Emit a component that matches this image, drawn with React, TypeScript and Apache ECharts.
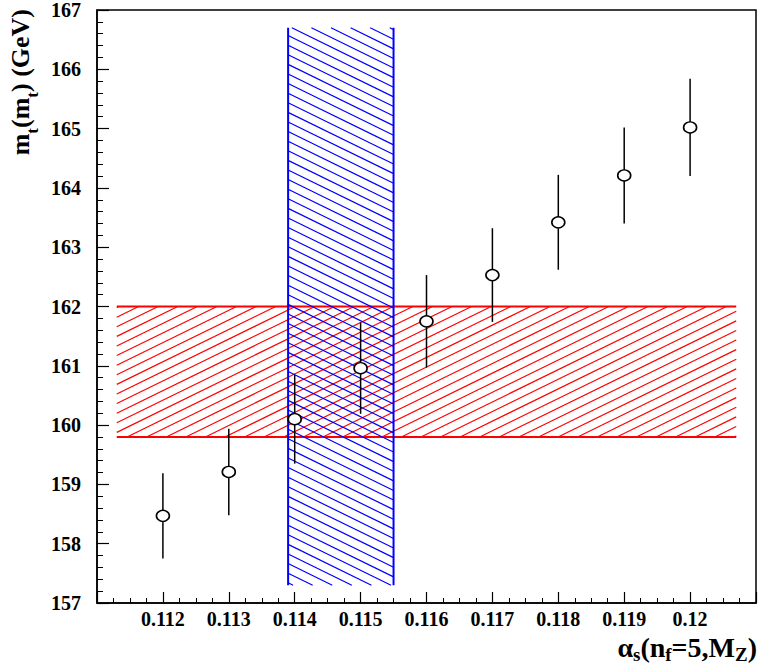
import React, { useEffect, useRef } from 'react';
import * as echarts from 'echarts';

// ---- data ----
const alphaS = [0.112, 0.113, 0.114, 0.115, 0.116, 0.117, 0.118, 0.119, 0.12];
const mtValues = [158.47, 159.21, 160.1, 160.96, 161.75, 162.53, 163.42, 164.21, 165.02];
const mtErrors = [0.72, 0.73, 0.75, 0.77, 0.78, 0.79, 0.8, 0.81, 0.82];

// vertical (alpha_s) band
const alphaBandX = [0.1139, 0.1155];
const alphaBandY = [157.3, 166.7];
// horizontal (m_t) band
const mtBandX = [0.1113, 0.1207];
const mtBandY = [159.8, 162.0];

const xMin = 0.111;
const xMax = 0.121;
const xStep = 0.001;
const yMin = 157;
const yMax = 167;
const yStep = 1;

const FONT = "'Liberation Serif', 'DejaVu Serif', serif";

type Seg = { x1: number; y1: number; x2: number; y2: number };

function hatch(xL: number, yT: number, xR: number, yB: number, dir: 'down' | 'up', spacing: number, slope: number): Seg[] {
  const W = xR - xL;
  const H = yB - yT;
  const segs: Seg[] = [];
  const start = dir === 'down' ? yT - slope * xL : yB + slope * xL;
  const cMin = -slope * W;
  const cMax = H;
  let k = Math.ceil((cMin + (dir === 'down' ? start : -start)) / spacing);
  for (let i = 0; i < 1000; i++, k++) {
    const c = dir === 'down' ? k * spacing - start : k * spacing + start;
    if (c > cMax) break;
    const t0 = Math.max(0, -c / slope);
    const t1 = Math.min(W, (H - c) / slope);
    if (t1 <= t0) continue;
    if (dir === 'down') {
      segs.push({ x1: xL + t0, y1: yT + c + slope * t0, x2: xL + t1, y2: yT + c + slope * t1 });
    } else {
      segs.push({ x1: xL + t0, y1: yB - c - slope * t0, x2: xL + t1, y2: yB - c - slope * t1 });
    }
  }
  return segs;
}

export default function App() {
  const ref = useRef<HTMLDivElement>(null);

  useEffect(() => {
    if (!ref.current) return;
    const chart = echarts.init(ref.current, undefined, { renderer: 'svg' });

    const bandRender = (color: string, dir: 'down' | 'up', borders: 'v' | 'h') => (params: any, api: any) => {
      const x0 = api.value(0), x1 = api.value(1), y0 = api.value(2), y1 = api.value(3);
      const pTL = api.coord([x0, y1]);
      const pBR = api.coord([x1, y0]);
      const segs = hatch(pTL[0], pTL[1], pBR[0], pBR[1], dir, 9.6, 0.49);
      const children: any[] = segs.map((s) => ({
        type: 'line',
        shape: s,
        style: { stroke: color, lineWidth: 1.2 },
      }));
      if (borders === 'v') {
        children.push({ type: 'line', shape: { x1: pTL[0], y1: pTL[1], x2: pTL[0], y2: pBR[1] }, style: { stroke: color, lineWidth: 2 } });
        children.push({ type: 'line', shape: { x1: pBR[0], y1: pTL[1], x2: pBR[0], y2: pBR[1] }, style: { stroke: color, lineWidth: 2 } });
      } else {
        children.push({ type: 'line', shape: { x1: pTL[0], y1: pTL[1], x2: pBR[0], y2: pTL[1] }, style: { stroke: color, lineWidth: 2 } });
        children.push({ type: 'line', shape: { x1: pTL[0], y1: pBR[1], x2: pBR[0], y2: pBR[1] }, style: { stroke: color, lineWidth: 2 } });
      }
      return { type: 'group', children };
    };

    const xRich = {
      a: { fontFamily: FONT, fontWeight: 'bold', fontSize: 28, lineHeight: 31, verticalAlign: 'top', color: '#000' },
      s: { fontFamily: FONT, fontWeight: 'bold', fontSize: 19, lineHeight: 12, verticalAlign: 'bottom', color: '#000' },
    };
    const yRich = {
      a: { fontFamily: FONT, fontWeight: 'bold', fontSize: 26, lineHeight: 34, verticalAlign: 'top', color: '#000' },
      s: { fontFamily: FONT, fontWeight: 'bold', fontSize: 17, lineHeight: 15, verticalAlign: 'bottom', color: '#000' },
    };

    chart.setOption({
      animation: false,
      backgroundColor: '#fff',
      grid: { left: 97, right: 2, top: 9, bottom: 63, show: true, borderColor: '#000', borderWidth: 1.5, backgroundColor: 'transparent' },
      xAxis: {
        type: 'value',
        min: xMin,
        max: xMax,
        interval: xStep,
        axisLine: { show: true, onZero: false, lineStyle: { color: '#000', width: 1.5 } },
        axisTick: { show: true, inside: true, length: 11, lineStyle: { color: '#000', width: 1.2 } },
        minorTick: { show: true, splitNumber: 4, length: 5, lineStyle: { color: '#000', width: 1 } },
        splitLine: { show: false },
        axisLabel: {
          color: '#000',
          fontFamily: FONT,
          fontWeight: 'bold',
          fontSize: 20,
          margin: 6,
          formatter: (v: number) => (v < xMin + xStep / 2 || v > xMax - xStep / 2 ? '' : String(parseFloat(v.toFixed(3)))),
        },
      },
      yAxis: {
        type: 'value',
        min: yMin,
        max: yMax,
        interval: yStep,
        axisLine: { show: true, onZero: false, lineStyle: { color: '#000', width: 1.5 } },
        axisTick: { show: true, inside: true, length: 12, lineStyle: { color: '#000', width: 1.2 } },
        minorTick: { show: true, splitNumber: 5, length: 6, lineStyle: { color: '#000', width: 1 } },
        splitLine: { show: false },
        axisLabel: { color: '#000', fontFamily: FONT, fontWeight: 'bold', fontSize: 20, margin: 16 },
      },
      graphic: [
        {
          type: 'text',
          right: 2,
          top: 633,
          style: {
            text: '{a|α}{s|s}{a|(n}{s|f}{a|=5,M}{s|Z}{a|)}',
            rich: xRich,
          },
        },
        {
          type: 'text',
          x: 7,
          y: 9,
          rotation: Math.PI / 2,
          style: {
            text: '{a|m}{s|t}{a|(m}{s|t}{a|) (GeV)}',
            rich: yRich,
            align: 'right',
            verticalAlign: 'top',
          },
        },
      ],
      series: [
        {
          type: 'custom',
          z: 1,
          renderItem: bandRender('#ff0000', 'up', 'h'),
          encode: { x: [0, 1], y: [2, 3] },
          data: [[mtBandX[0], mtBandX[1], mtBandY[0], mtBandY[1]]],
          silent: true,
        },
        {
          type: 'custom',
          z: 2,
          renderItem: bandRender('#0000ff', 'down', 'v'),
          encode: { x: [0, 1], y: [2, 3] },
          data: [[alphaBandX[0], alphaBandX[1], alphaBandY[0], alphaBandY[1]]],
          silent: true,
        },
        {
          type: 'custom',
          z: 3,
          renderItem: (params: any, api: any) => {
            const x = api.value(0);
            const p1 = api.coord([x, api.value(1)]);
            const p2 = api.coord([x, api.value(2)]);
            return { type: 'line', shape: { x1: p1[0], y1: p1[1], x2: p2[0], y2: p2[1] }, style: { stroke: '#000', lineWidth: 1.5 } };
          },
          encode: { x: 0, y: [1, 2] },
          data: alphaS.map((x, i) => [x, mtValues[i] - mtErrors[i], mtValues[i] + mtErrors[i]]),
          silent: true,
        },
        {
          type: 'scatter',
          z: 4,
          symbol: 'circle',
          symbolSize: [13, 11],
          itemStyle: { color: '#fff', borderColor: '#000', borderWidth: 1.5, opacity: 1 },
          data: alphaS.map((x, i) => [x, mtValues[i]]),
          silent: true,
        },
      ],
    });

    return () => chart.dispose();
  }, []);

  return <div ref={ref} style={{ position: 'fixed', left: 0, top: 0, width: 759, height: 666 }} />;
}
